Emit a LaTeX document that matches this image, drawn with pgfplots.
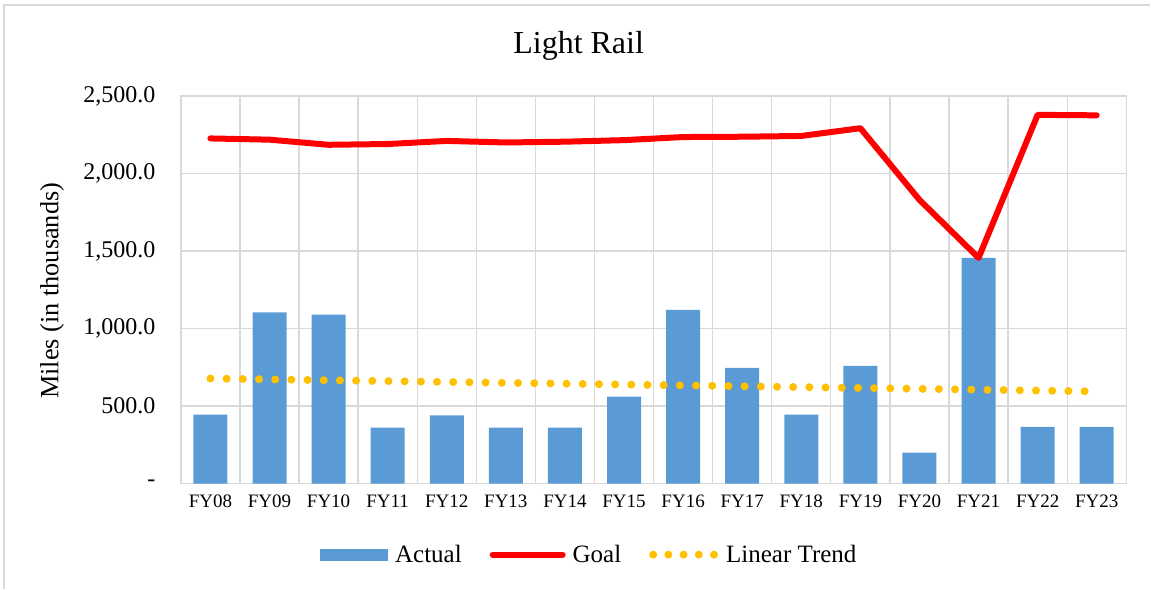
\documentclass[border=0pt]{standalone}
\usepackage{pgfplots}
\pgfplotsset{compat=1.18}
\usepackage{fontspec}
\setmainfont{Liberation Serif}
\definecolor{barblue}{HTML}{5B9BD5}
\definecolor{goalred}{HTML}{FF0000}
\definecolor{trendyel}{HTML}{FFC000}
\definecolor{gridgray}{HTML}{D9D9D9}
\begin{document}
\begin{tikzpicture}[x=1pt,y=1pt]
\path (0,0) rectangle (1151,589);
\draw[gridgray, line width=1.5pt] (4,0) -- (4,584) -- (1151,584);
\node at (579,543) {\fontsize{32}{36}\selectfont Light Rail};
\node[rotate=90] at (52,298) {\fontsize{26.3}{30}\selectfont Miles (in thousands)};
\begin{axis}[
  at={(181pt,105pt)}, anchor=south west,
  scale only axis, width=946pt, height=388pt,
  xmin=-0.5, xmax=15.5, ymin=0, ymax=2500,
  xtick={0,...,15},
  xticklabels={FY08,FY09,FY10,FY11,FY12,FY13,FY14,FY15,FY16,FY17,FY18,FY19,FY20,FY21,FY22,FY23},
  minor xtick={-0.5,0.5,...,15.5},
  ytick={0,500,1000,1500,2000,2500},
  yticklabels={-,{500.0},{1,000.0},{1,500.0},{2,000.0},{2,500.0}},
  ymajorgrids, xminorgrids,
  grid style={gridgray, line width=1.3pt},
  minor grid style={gridgray, line width=1.3pt},
  axis line style={gridgray, line width=1.3pt},
  major tick length=0pt, minor tick length=0pt,
  x tick label style={font=\fontsize{19}{22}\selectfont, yshift=-8pt},
  y tick label style={font=\fontsize{24}{27}\selectfont, xshift=-22pt},
  legend columns=3,
  legend style={at={(0.432,-0.183)}, anchor=center, draw=none, fill=none,
    font=\fontsize{25}{29}\selectfont,
    /tikz/every odd column/.append style={column sep=5pt},
    /tikz/every even column/.append style={column sep=26pt}},
  legend cell align=left,
]
\addplot[ybar, bar width=34pt, fill=barblue, draw=none,
  legend image code/.code={\fill[barblue] (0pt,-6pt) rectangle (68pt,6pt);}]
  coordinates {(0,445) (1,1105) (2,1090) (3,361) (4,440) (5,362) (6,362) (7,561)
  (8,1121) (9,747) (10,445) (11,760) (12,200) (13,1456) (14,366) (15,366)};
\addlegendentry{Actual}
\addplot[goalred, line width=6pt, line cap=round, line join=round,
  legend image code/.code={\draw[goalred, line width=6pt, line cap=round] (0pt,0pt) -- (70pt,0pt);}]
  coordinates {(0,2226) (1,2218) (2,2185) (3,2190) (4,2210) (5,2200) (6,2205) (7,2215)
  (8,2235) (9,2237) (10,2242) (11,2292) (12,1830) (13,1456) (14,2378) (15,2375)};
\addlegendentry{Goal}
\addplot[trendyel, line width=8pt, line cap=round, dash pattern=on 0pt off 16.2pt,
  legend image code/.code={\draw[trendyel, line width=8pt, line cap=round, dash pattern=on 0pt off 15.2pt] (0pt,0pt) -- (62pt,0pt);}]
  coordinates {(0,678) (15,595)};
\addlegendentry{Linear Trend}
\end{axis}
\end{tikzpicture}
\end{document}
